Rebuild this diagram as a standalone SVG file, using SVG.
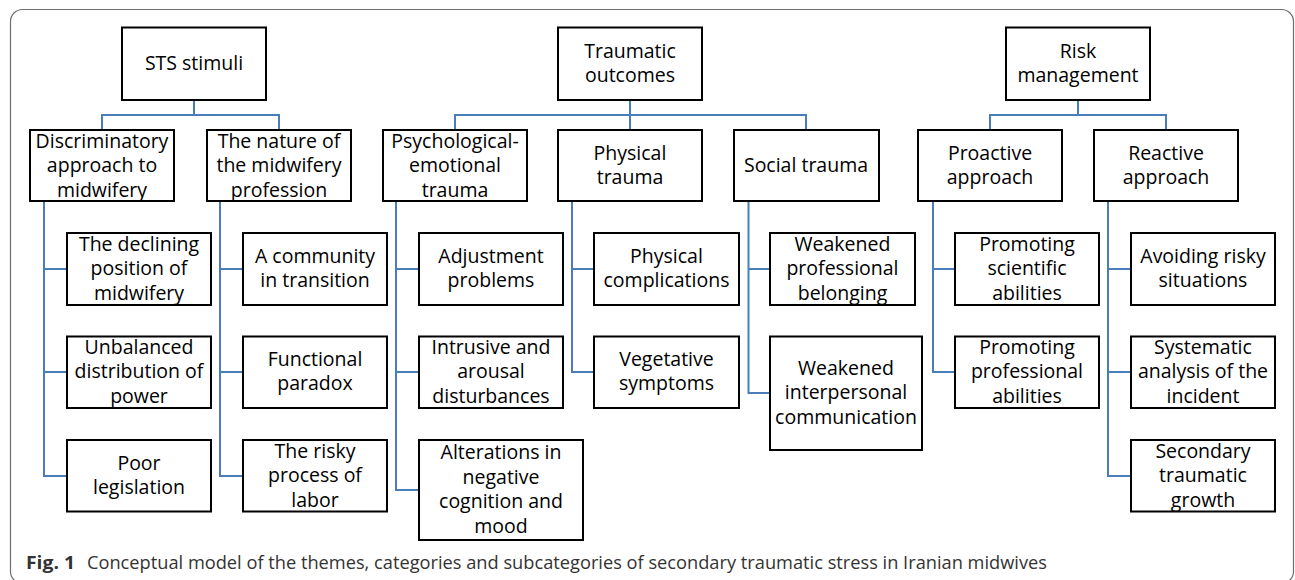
<svg xmlns="http://www.w3.org/2000/svg" width="1295" height="580" viewBox="0 0 1295 580">
  <style>
    .box { fill: #ffffff; stroke: #000000; stroke-width: 2; }
    .t { font-family: "Open Sans", "Noto Sans", "DejaVu Sans", sans-serif; font-size: 19.5px; fill: #000000; text-anchor: middle; }
    .link { fill: none; stroke: #4a7ebb; stroke-width: 2; }
    .cap { font-family: "Open Sans", "Noto Sans", sans-serif; font-size: 18.5px; fill: #333333; }
  </style>

  <rect x="10.5" y="9.5" width="1283" height="574" rx="12" ry="12" fill="#ffffff" stroke="#6e6e6e" stroke-width="1.2"/>

  <!-- connectors -->
  <g id="connectors" class="link">
    <path d="M194 100 V115 M102 130 V115 H279 V130"/>
    <path d="M630 100 V130 M455 130 V115 H806 V130"/>
    <path d="M1078 100 V115 M990 130 V115 H1166 V130"/>
    <path d="M44 201 V476 H67 M44 269 H67 M44 372 H67"/>
    <path d="M220 201 V476 H243 M220 269 H243 M220 372 H243"/>
    <path d="M396 201 V490 H419 M396 269 H419 M396 372 H419"/>
    <path d="M572 201 V372 H594 M572 269 H594"/>
    <path d="M748.5 201 V393 H770 M748.5 269 H770"/>
    <path d="M933 201 V372 H955 M933 269 H955"/>
    <path d="M1108 201 V476 H1131 M1108 269 H1131 M1108 372 H1131"/>
  </g>

  <!-- level 1: themes -->
  <g id="sts-stimuli">
    <rect class="box" x="122" y="27.5" width="144" height="72.5"/>
    <text class="t" x="194" y="70">STS stimuli</text>
  </g>
  <g id="traumatic-outcomes">
    <rect class="box" x="558" y="27.5" width="144" height="72.5"/>
    <text class="t" x="630" y="57.75">Traumatic<tspan x="630" dy="24.5">outcomes</tspan></text>
  </g>
  <g id="risk-management">
    <rect class="box" x="1006" y="27.5" width="144" height="72.5"/>
    <text class="t" x="1078" y="57.75">Risk<tspan x="1078" dy="24.5">management</tspan></text>
  </g>

  <!-- level 2: categories -->
  <g id="discriminatory-approach">
    <rect class="box" x="30" y="130" width="144" height="71"/>
    <text class="t" x="102" y="147.5">Discriminatory<tspan x="102" dy="24.5">approach to</tspan><tspan x="102" dy="24.5">midwifery</tspan></text>
  </g>
  <g id="nature-of-profession">
    <rect class="box" x="207" y="130" width="144" height="71"/>
    <text class="t" x="279" y="147.5">The nature of<tspan x="279" dy="24.5">the midwifery</tspan><tspan x="279" dy="24.5">profession</tspan></text>
  </g>
  <g id="psychological-emotional-trauma">
    <rect class="box" x="383" y="130" width="144" height="71"/>
    <text class="t" x="455" y="147.5">Psychological-<tspan x="455" dy="24.5">emotional</tspan><tspan x="455" dy="24.5">trauma</tspan></text>
  </g>
  <g id="physical-trauma">
    <rect class="box" x="558" y="130" width="144" height="71"/>
    <text class="t" x="630" y="159.75">Physical<tspan x="630" dy="24.5">trauma</tspan></text>
  </g>
  <g id="social-trauma">
    <rect class="box" x="734" y="130" width="145" height="71"/>
    <text class="t" x="806" y="172">Social trauma</text>
  </g>
  <g id="proactive-approach">
    <rect class="box" x="918" y="130" width="144" height="71"/>
    <text class="t" x="990" y="159.75">Proactive<tspan x="990" dy="24.5">approach</tspan></text>
  </g>
  <g id="reactive-approach">
    <rect class="box" x="1094" y="130" width="144" height="71"/>
    <text class="t" x="1166" y="159.75">Reactive<tspan x="1166" dy="24.5">approach</tspan></text>
  </g>

  <!-- level 3: subcategories -->
  <g id="declining-position">
    <rect class="box" x="67" y="233" width="144" height="72"/>
    <text class="t" x="139" y="250.5">The declining<tspan x="139" dy="24.5">position of</tspan><tspan x="139" dy="24.5">midwifery</tspan></text>
  </g>
  <g id="unbalanced-power">
    <rect class="box" x="67" y="336.5" width="144" height="71.5"/>
    <text class="t" x="139" y="353.5">Unbalanced<tspan x="139" dy="24.5">distribution of</tspan><tspan x="139" dy="24.5">power</tspan></text>
  </g>
  <g id="poor-legislation">
    <rect class="box" x="67" y="440" width="144" height="71.5"/>
    <text class="t" x="139" y="469.75">Poor<tspan x="139" dy="24.5">legislation</tspan></text>
  </g>

  <g id="community-in-transition">
    <rect class="box" x="243" y="233" width="144" height="72"/>
    <text class="t" x="315" y="262.75">A community<tspan x="315" dy="24.5">in transition</tspan></text>
  </g>
  <g id="functional-paradox">
    <rect class="box" x="243" y="336.5" width="144" height="71.5"/>
    <text class="t" x="315" y="365.75">Functional<tspan x="315" dy="24.5">paradox</tspan></text>
  </g>
  <g id="risky-labor">
    <rect class="box" x="243" y="440" width="144" height="71.5"/>
    <text class="t" x="315" y="457.5">The risky<tspan x="315" dy="24.5">process of</tspan><tspan x="315" dy="24.5">labor</tspan></text>
  </g>

  <g id="adjustment-problems">
    <rect class="box" x="419" y="233" width="144" height="72"/>
    <text class="t" x="491" y="262.75">Adjustment<tspan x="491" dy="24.5">problems</tspan></text>
  </g>
  <g id="intrusive-arousal">
    <rect class="box" x="419" y="336.5" width="144" height="71.5"/>
    <text class="t" x="491" y="353.5">Intrusive and<tspan x="491" dy="24.5">arousal</tspan><tspan x="491" dy="24.5">disturbances</tspan></text>
  </g>
  <g id="negative-cognition">
    <rect class="box" x="419" y="440" width="164" height="100"/>
    <text class="t" x="501" y="459.25">Alterations in<tspan x="501" dy="24.5">negative</tspan><tspan x="501" dy="24.5">cognition and</tspan><tspan x="501" dy="24.5">mood</tspan></text>
  </g>

  <g id="physical-complications">
    <rect class="box" x="594" y="233" width="145" height="72"/>
    <text class="t" x="666.5" y="262.75">Physical<tspan x="666.5" dy="24.5">complications</tspan></text>
  </g>
  <g id="vegetative-symptoms">
    <rect class="box" x="594" y="336.5" width="145" height="71.5"/>
    <text class="t" x="666.5" y="365.75">Vegetative<tspan x="666.5" dy="24.5">symptoms</tspan></text>
  </g>

  <g id="professional-belonging">
    <rect class="box" x="770" y="233" width="145" height="72"/>
    <text class="t" x="842.5" y="250.5">Weakened<tspan x="842.5" dy="24.5">professional</tspan><tspan x="842.5" dy="24.5">belonging</tspan></text>
  </g>
  <g id="interpersonal-communication">
    <rect class="box" x="770" y="336.5" width="152" height="113.5"/>
    <text class="t" x="846" y="374.5">Weakened<tspan x="846" dy="24.5">interpersonal</tspan><tspan x="846" dy="24.5">communication</tspan></text>
  </g>

  <g id="scientific-abilities">
    <rect class="box" x="955" y="233" width="144" height="72"/>
    <text class="t" x="1027" y="250.5">Promoting<tspan x="1027" dy="24.5">scientific</tspan><tspan x="1027" dy="24.5">abilities</tspan></text>
  </g>
  <g id="professional-abilities">
    <rect class="box" x="955" y="336.5" width="144" height="71.5"/>
    <text class="t" x="1027" y="353.5">Promoting<tspan x="1027" dy="24.5">professional</tspan><tspan x="1027" dy="24.5">abilities</tspan></text>
  </g>

  <g id="avoiding-risky-situations">
    <rect class="box" x="1131" y="233" width="144" height="72"/>
    <text class="t" x="1203" y="262.75">Avoiding risky<tspan x="1203" dy="24.5">situations</tspan></text>
  </g>
  <g id="systematic-analysis">
    <rect class="box" x="1131" y="336.5" width="144" height="71.5"/>
    <text class="t" x="1203" y="353.5">Systematic<tspan x="1203" dy="24.5">analysis of the</tspan><tspan x="1203" dy="24.5">incident</tspan></text>
  </g>
  <g id="secondary-traumatic-growth">
    <rect class="box" x="1131" y="440" width="144" height="71.5"/>
    <text class="t" x="1203" y="457.5">Secondary<tspan x="1203" dy="24.5">traumatic</tspan><tspan x="1203" dy="24.5">growth</tspan></text>
  </g>

  <!-- caption -->
  <text class="cap" x="26" y="569" font-weight="bold" fill="#222222" textLength="49" lengthAdjust="spacingAndGlyphs">Fig. 1</text>
  <text class="cap" x="87" y="569" textLength="960" lengthAdjust="spacingAndGlyphs">Conceptual model of the themes, categories and subcategories of secondary traumatic stress in Iranian midwives</text>
</svg>
